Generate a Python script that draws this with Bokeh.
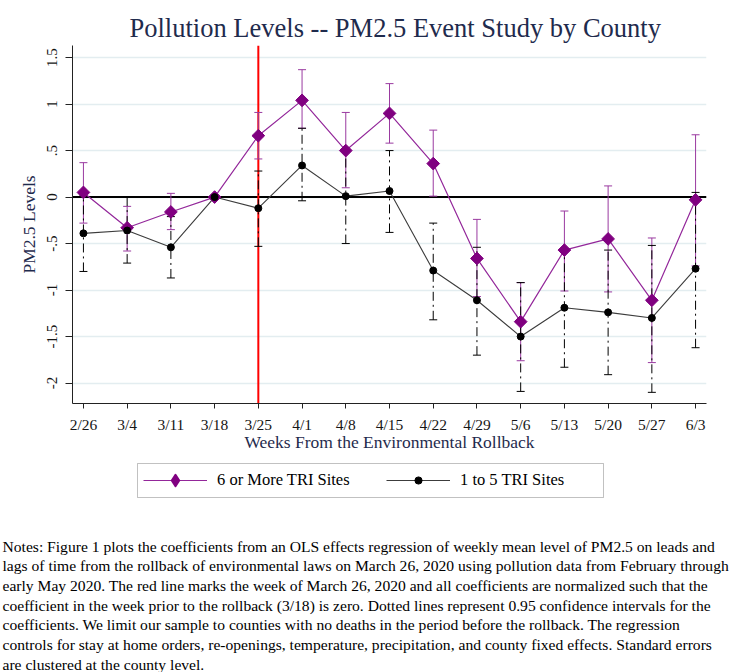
import numpy as np
from bokeh.plotting import figure
from bokeh.layouts import column
from bokeh.models import (ColumnDataSource, Whisker, TeeHead, Span, Label, Legend,
                          LegendItem, FixedTicker, Range1d, BoxAnnotation)
from bokeh.embed import file_html
from bokeh.resources import INLINE

# ---------------- data ----------------
weeks = ["2/26", "3/4", "3/11", "3/18", "3/25", "4/1", "4/8", "4/15",
         "4/22", "4/29", "5/6", "5/13", "5/20", "5/27", "6/3"]
rollback_week = "3/25"

many_coef = [0.05, -0.33, -0.16, 0.0, 0.66, 1.04, 0.50, 0.90,
             0.36, -0.66, -1.34, -0.57, -0.45, -1.11, -0.03]
many_lo = [-0.28, -0.58, -0.35, 0.0, 0.41, 0.74, 0.10, 0.58,
           0.01, -1.07, -1.76, -1.01, -1.02, -1.78, -0.74]
many_hi = [0.37, -0.10, 0.04, 0.0, 0.91, 1.37, 0.91, 1.22,
           0.72, -0.24, -0.92, -0.15, 0.12, -0.44, 0.67]

few_coef = [-0.39, -0.36, -0.54, 0.0, -0.12, 0.34, 0.01, 0.065,
            -0.79, -1.11, -1.50, -1.19, -1.24, -1.30, -0.77]
few_lo = [-0.80, -0.71, -0.87, 0.0, -0.53, -0.04, -0.50, -0.38,
          -1.32, -1.70, -2.09, -1.83, -1.91, -2.10, -1.62]
few_hi = [0.02, 0.0, -0.21, 0.0, 0.28, 0.74, 0.51, 0.50,
          -0.28, -0.54, -0.92, -0.56, -0.57, -0.52, 0.05]

y_ticks = [1.5, 1.0, 0.5, 0.0, -0.5, -1.0, -1.5, -2.0]
y_tick_labels = ["1.5", "1", ".5", "0", "-.5", "-1", "-1.5", "-2"]

series_names = ["6 or More TRI Sites", "1 to 5 TRI Sites"]
title_text = "Pollution Levels -- PM2.5 Event Study by County"
x_title = "Weeks From the Environmental Rollback"
y_title = "PM2.5 Levels"
notes_lines = [
    "Notes: Figure 1 plots the coefficients from an OLS effects regression of weekly mean level of PM2.5 on leads and",
    "lags of time from the rollback of environmental laws on March 26, 2020 using pollution data from February through",
    "early May 2020. The red line marks the week of March 26, 2020 and all coefficients are normalized such that the",
    "coefficient in the week prior to the rollback (3/18) is zero. Dotted lines represent 0.95 confidence intervals for the",
    "coefficients. We limit our sample to counties with no deaths in the period before the rollback. The regression",
    "controls for stay at home orders, re-openings, temperature, precipitation, and county fixed effects. Standard errors",
    "are clustered at the county level.",
]

# ---------------- styles ----------------
PURPLE = "#800080"
PURPLE_LINE = "#93279a"
PURPLE_CI = "#9a3aa0"
BLACK_LINE = "#3c3c3c"
NAVY = "#1f2b4d"
SERIF = "Liberation Serif"

W = 738
H_MAIN = 455
H_BOTTOM = 672 - H_MAIN
BL, BR, BT, BB = 72, 32, 45, 52

x = list(range(len(weeks)))

p = figure(width=W, height=H_MAIN, output_backend="svg", toolbar_location=None,
           x_range=Range1d(-0.25, len(weeks) - 0.75), y_range=Range1d(-2.22, 1.63),
           min_border_left=BL, min_border_right=BR, min_border_top=BT,
           min_border_bottom=BB, title=title_text)
p.frame_align = False
p.outline_line_color = None
p.background_fill_color = "white"
p.border_fill_color = "white"

p.title.align = "left"
p.title.offset = 57
p.title.standoff = 6
p.title.text_font = SERIF
p.title.text_font_size = "26.5px"
p.title.text_font_style = "normal"
p.title.text_color = NAVY

# axes
p.xaxis.ticker = FixedTicker(ticks=x)
p.xaxis.major_label_overrides = {i: w for i, w in zip(x, weeks)}
p.yaxis.ticker = FixedTicker(ticks=y_ticks)
p.yaxis.major_label_overrides = {float(v): s for v, s in zip(y_ticks, y_tick_labels)}
p.yaxis.major_label_orientation = "vertical"
for ax in (p.xaxis, p.yaxis):
    ax.minor_tick_line_color = None
    ax.major_tick_in = 0
    ax.axis_line_color = "#222222"
    ax.major_tick_line_color = "#222222"
    ax.major_label_text_font = SERIF
    ax.major_label_text_color = "#151515"
    ax.axis_label_text_font = SERIF
    ax.axis_label_text_font_style = "normal"
    ax.axis_label_text_color = NAVY
    ax.axis_label_text_font_size = "17.5px"
p.xaxis.major_tick_out = 5
p.yaxis.major_tick_out = 7
p.xaxis.major_label_text_font_size = "15.5px"
p.yaxis.major_label_text_font_size = "15px"
p.xaxis.major_label_standoff = 7
p.yaxis.major_label_standoff = 8
p.xaxis.axis_label_standoff = -4
p.yaxis.axis_label_standoff = 6
p.xaxis.axis_label = x_title
p.yaxis.axis_label = y_title

p.xgrid.visible = False
p.ygrid.grid_line_color = "#e3edf0"
p.ygrid.grid_line_width = 1.5

# reference lines
p.add_layout(Span(location=0, dimension="width", line_color="black",
                  line_width=2, level="underlay"))
p.add_layout(Span(location=weeks.index(rollback_week), dimension="height",
                  line_color="#ff0000", line_width=2, level="underlay"))


# confidence intervals
def ci_source(lo, hi):
    keep = [i for i in x if lo[i] != hi[i]]
    return ColumnDataSource(dict(x=[x[i] for i in keep],
                                 lo=[lo[i] for i in keep],
                                 hi=[hi[i] for i in keep]))


w_many = Whisker(source=ci_source(many_lo, many_hi), base="x", lower="lo", upper="hi",
                 line_color=PURPLE_CI, line_width=1,
                 upper_head=TeeHead(size=8, line_color=PURPLE_CI, line_width=1),
                 lower_head=TeeHead(size=8, line_color=PURPLE_CI, line_width=1))
w_few = Whisker(source=ci_source(few_lo, few_hi), base="x", lower="lo", upper="hi",
                line_color="black", line_width=1, line_dash="9 4 2 4",
                upper_head=TeeHead(size=8, line_color="black", line_width=1),
                lower_head=TeeHead(size=8, line_color="black", line_width=1))
p.add_layout(w_many)
p.add_layout(w_few)


def draw_series(fig, many_marker="square", many_angle=np.pi / 4, many_size=9,
                many_outline=1.0, few_size=7):
    lm = fig.line(x, many_coef, line_color=PURPLE_LINE, line_width=1.2)
    lf = fig.line(x, few_coef, line_color=BLACK_LINE, line_width=1.1)
    mm = fig.scatter(x, many_coef, marker=many_marker, angle=many_angle, size=many_size,
                     fill_color=PURPLE, line_color=PURPLE, line_width=many_outline,
                     line_join="round")
    mf = fig.scatter(x, few_coef, marker="circle", size=few_size,
                     fill_color="black", line_color="black")
    return lm, mm, lf, mf


draw_series(p)

# ---------------- bottom panel: legend + notes ----------------
# The series are re-used here only to feed the legend; this panel's ranges keep
# them out of view, so only the legend samples are shown.
q = figure(width=W, height=H_BOTTOM, output_backend="svg", toolbar_location=None,
           x_range=Range1d(-100, -99), y_range=Range1d(-100, -99),
           min_border=0, min_border_left=0, min_border_right=0,
           min_border_top=0, min_border_bottom=0)
q.frame_align = False
q.axis.visible = False
q.grid.visible = False
q.outline_line_color = None
q.background_fill_color = "white"
q.border_fill_color = "white"

lm, mm, lf, mf = draw_series(q, many_marker="diamond", many_angle=0.0, many_outline=2.0)

TOP = H_MAIN  # page y of the bottom panel's top edge


def sy(page_y):
    return H_BOTTOM - (page_y - TOP)


# legend frame
q.add_layout(BoxAnnotation(left=137, right=603, bottom=sy(497), top=sy(463),
                           left_units="screen", right_units="screen",
                           bottom_units="screen", top_units="screen",
                           fill_alpha=0, line_color="#333333", line_width=1))

legend_common = dict(orientation="horizontal", margin=0, glyph_width=64,
                     label_height=22, label_standoff=10, border_line_color=None,
                     background_fill_alpha=0.0, label_text_font=SERIF,
                     label_text_font_size="16.5px", label_text_color="black")
leg1 = Legend(items=[LegendItem(label=series_names[0], renderers=[lm, mm])],
              location=(143, sy(494)), glyph_height=28, padding=2, **legend_common)
leg2 = Legend(items=[LegendItem(label=series_names[1], renderers=[lf, mf])],
              location=(386, sy(491)), glyph_height=18, padding=6, **legend_common)
q.add_layout(leg1)
q.add_layout(leg2)

for i, line in enumerate(notes_lines):
    q.add_layout(Label(x=2, y=sy(545.5 + 19.7 * i), x_units="screen", y_units="screen",
                       text=line, text_align="left", text_baseline="middle",
                       text_font=SERIF, text_font_size="15.6px", text_color="black"))

layout = column(p, q, spacing=0)
open("out.html", "w").write(file_html(layout, INLINE))
